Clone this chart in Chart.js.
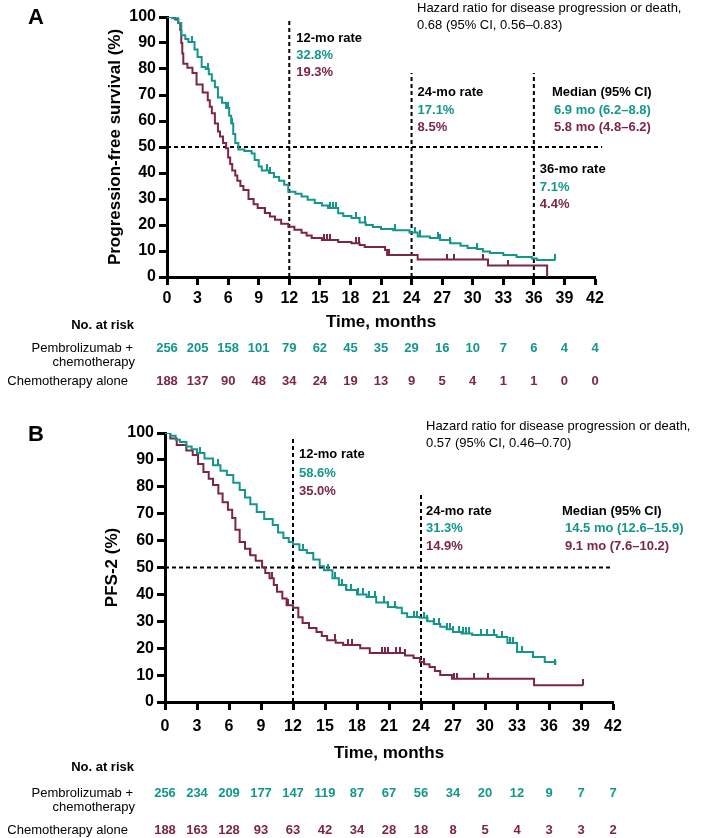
<!DOCTYPE html>
<html>
<head>
<meta charset="utf-8">
<script src="https://cdn.jsdelivr.net/npm/chart.js@4.4.1/dist/chart.umd.min.js"></script>
<style>
html, body { margin: 0; padding: 0; background: #fff; }
#wrap { position: relative; width: 709px; height: 838px; }
canvas { position: absolute; left: 0; }
#pfsChart { top: 0; }
#pfs2Chart { top: 410px; }
</style>
</head>
<body>
<div id="wrap">
  <canvas id="pfsChart" width="709" height="400"></canvas>
  <canvas id="pfs2Chart" width="709" height="428"></canvas>
</div>
<script>
const TEAL = '#13978a';
const MAROON = '#7c2549';
const FONT = '"Liberation Sans", Arial, sans-serif';

// x axis ticks / risk table columns (months)
const monthTicks = [0, 3, 6, 9, 12, 15, 18, 21, 24, 27, 30, 33, 36, 39, 42];

// Panel A: progression-free survival
const pfsPembroTime = [0,0.5,1.1,1.4,1.8,2.1,2.7,3.0,3.4,3.8,4.1,4.4,4.7,5.0,5.4,5.8,6.1,6.3,6.5,6.7,7.0,7.6,8.3,8.6,9.0,9.3,10.0,10.5,11.0,11.5,11.9,12.6,13.2,13.8,14.5,15.2,15.8,16.8,17.3,18.1,18.9,19.5,20.2,21.0,22.2,23.8,24.6,25.8,26.8,27.8,28.8,29.5,30.4,31.0,31.7,33.0,34.3,35.8,36.3,38.1];
const pfsPembroSurv = [100,99.5,97.7,93,91.5,90.4,87.5,84.6,80.8,80,78,75.5,73,69,67,65,62,59,55,51.5,49,48.5,47.5,45,42.5,41,40,38.5,37,35.5,32.8,32,31,29.7,28.5,27.5,26.5,24.5,23.5,22.7,21,20,19.2,18.5,18,17.1,15.6,15,14.2,13,12,11.2,10.8,9.8,9.2,8.5,7.7,7.1,6.5,6.5];
const pfsChemoTime = [0,0.8,1.1,1.3,1.4,1.5,1.6,2.0,2.5,2.9,3.5,4.0,4.2,4.4,4.7,5.0,5.2,5.5,5.8,6.0,6.2,6.4,6.7,6.9,7.2,7.5,8.0,8.5,8.9,9.6,10.1,10.6,11.2,11.9,12.5,13.2,13.7,14.2,15.2,16.8,18.1,18.9,19.4,21.4,21.6,24.6,31.5,37.3];
const pfsChemoSurv = [100,99,97.7,95,90,86,82,80.5,78.5,74,71,68,65.5,63,59,56,54,51.5,49.5,46,43.5,41,39,37,35,33.5,30,28,26.5,24.6,23.3,22,20.5,19.3,18.2,17,16,15,14.2,13.5,13,12.3,11.5,10.4,8.5,6.7,4.4,0];
const pfsPembroCensor = [2.5,4.0,6.0,6.4,9.8,10.1,16.0,16.3,16.6,18.5,19.4,22.4,24.3,24.8,26.6,26.8,27.8,30.4,38.1];
const pfsChemoCensor = [9.6,15.4,15.7,16.0,18.5,18.8,21.8,27.5,28.2,31.0,33.5];
const pfsPembroRisk = [256,205,158,101,79,62,45,35,29,16,10,7,6,4,4];
const pfsChemoRisk = [188,137,90,48,34,24,19,13,9,5,4,1,1,0,0];

// Panel B: PFS-2
const pfs2PembroTime = [0,0.5,1.0,1.4,2.0,2.5,3.0,3.7,4.5,5.2,5.8,6.4,7.0,7.5,8.0,8.6,9.3,10.1,10.6,11.1,11.6,12.0,12.6,13.3,13.9,14.5,14.9,15.7,16.3,17.0,18.0,18.9,19.8,20.9,21.7,22.2,22.7,23.9,24.6,25.2,25.8,26.4,27.0,27.8,28.8,31.1,32.1,33.0,34.5,35.6,36.6];
const pfs2PembroSurv = [100,99,97.5,96.7,95,94,92.6,90.5,88,86,84.4,81.5,78.8,76,73.5,70.6,68,65.8,63,61,59.5,58.6,56.5,55.4,53,50.5,49,46,43.5,41.6,40,39,37,35.3,35,33,31.6,31.3,30,29,28,27,26,25.5,24.9,24.2,21.9,18.6,16.7,14.9,13.8];
const pfs2ChemoTime = [0,0.5,1.1,2.0,2.6,3.1,3.6,4.1,4.5,5.0,5.4,5.9,6.3,6.6,7.0,7.5,8.0,8.5,9.1,9.4,9.8,10.2,10.5,11.0,11.4,12.0,12.5,12.9,13.5,14.2,14.7,15.2,16.0,16.7,18.3,19.2,22.5,23.3,23.9,24.3,24.8,25.3,25.8,26.9,34.6,39.2];
const pfs2ChemoSurv = [100,98,95.5,93.5,91.8,88.5,85.5,83,80.7,77.5,74.3,71.5,68.4,64,59.5,57,54.6,52.5,50,48,46,43.5,41,38.5,36,35,31.5,29.4,27.5,26,24.5,23,22,21.2,20,18.2,17.3,16.4,14.9,14,13,11.5,10,8.6,6.2,6.2];
const pfs2PembroCensor = [3.3,5.0,12.9,15.3,15.9,16.6,17.0,17.4,18.1,18.6,19.1,19.7,20.5,20.9,21.6,23.3,23.6,24.3,24.6,25.2,25.7,26.4,26.7,27.0,27.6,27.9,28.2,28.5,29.6,30.2,30.8,31.6,32.3,32.6,33.5,36.6];
const pfs2ChemoCensor = [8.0,10.0,11.5,15.9,17.2,17.5,20.3,20.6,20.9,21.7,22.0,22.5,24.3,27.1,27.4,29.0,30.3,39.2];
const pfs2PembroRisk = [256,234,209,177,147,119,87,67,56,34,20,12,9,7,7];
const pfs2ChemoRisk = [188,163,128,93,63,42,34,28,18,8,5,4,3,3,2];

function toPoints(times, surv) {
    return times.map((t, i) => ({ x: t, y: surv[i] }));
}

// value of the step curve at time t
function survAt(times, surv, t) {
    let s = surv[0];
    for (let i = 0; i < times.length; i++) {
        if (times[i] <= t) s = surv[i];
    }
    return s;
}

function censorPoints(censor, times, surv) {
    return censor.map(t => ({ x: t, y: survAt(times, surv, t) }));
}

// small upward tick used as censor mark
function tickMark(color) {
    const c = document.createElement('canvas');
    c.width = 2;
    c.height = 12;
    const g = c.getContext('2d');
    g.fillStyle = color;
    g.fillRect(0, 0, 2, 6);
    return c;
}

function refLine(pts) {
    return {
        data: pts, showLine: true, borderColor: '#000', borderWidth: 2,
        borderDash: [4, 3], pointRadius: 0, clip: false
    };
}

function axisOpts(extra) {
    return Object.assign({
        type: 'linear',
        border: { display: true, color: '#000', width: 3 },
        grid: { display: true, drawOnChartArea: false, drawTicks: true, tickLength: 8, tickColor: '#000', tickWidth: 3 },
    }, extra);
}

function buildPanel(canvasId, p) {
    const textPlugin = {
        id: 'panelText',
        afterDraw(chart) {
            const ctx = chart.ctx;
            const xs = chart.scales.x;
            ctx.save();
            ctx.textBaseline = 'middle';
            p.texts.forEach(tx => {
                ctx.font = (tx.bold ? 'bold ' : '') + tx.size + 'px ' + FONT;
                ctx.fillStyle = tx.color || '#000';
                ctx.textAlign = tx.align || 'left';
                const x = tx.at !== undefined ? xs.getPixelForValue(tx.at) + tx.dx : tx.x;
                ctx.fillText(tx.text, x, tx.y);
            });
            // risk table
            ctx.font = 'bold 13px ' + FONT;
            ctx.textAlign = 'center';
            monthTicks.forEach((m, i) => {
                const x = xs.getPixelForValue(m);
                ctx.fillStyle = TEAL;
                ctx.fillText(String(p.pembroRisk[i]), x, p.riskY[0]);
                ctx.fillStyle = MAROON;
                ctx.fillText(String(p.chemoRisk[i]), x, p.riskY[1]);
            });
            ctx.restore();
        }
    };

    const datasets = [
        { data: toPoints(p.pembroT, p.pembroS), showLine: true, stepped: true, borderColor: TEAL, borderWidth: 2, pointRadius: 0 },
        { data: censorPoints(p.pembroC, p.pembroT, p.pembroS), showLine: false, pointStyle: tickMark(TEAL), pointRadius: 5 },
        { data: toPoints(p.chemoT, p.chemoS), showLine: true, stepped: true, borderColor: MAROON, borderWidth: 2, pointRadius: 0 },
        { data: censorPoints(p.chemoC, p.chemoT, p.chemoS), showLine: false, pointStyle: tickMark(MAROON), pointRadius: 5 },
        refLine([{ x: 0, y: 50 }, { x: p.hEnd, y: 50 }])
    ];
    p.vLines.forEach(v => datasets.push(refLine([{ x: v.x, y: 0 }, { x: v.x, y: v.top }])));

    return new Chart(document.getElementById(canvasId), {
        type: 'scatter',
        data: { datasets: datasets },
        options: {
            responsive: false,
            animation: false,
            layout: { padding: p.pad },
            plugins: { legend: { display: false }, tooltip: { enabled: false } },
            scales: {
                x: axisOpts({
                    min: 0, max: 42,
                    afterBuildTicks: s => { s.ticks = monthTicks.map(v => ({ value: v })); },
                    ticks: { color: '#000', font: { family: FONT, size: 16, weight: 'bold' }, padding: p.xTickPad, maxRotation: 0, autoSkip: false },
                    title: { display: true, text: 'Time, months', color: '#000', font: { family: FONT, size: 17, weight: 'bold' }, padding: { top: 0, bottom: 4 } },
                    afterFit: s => { s.height = p.xH; }
                }),
                y: axisOpts({
                    min: 0, max: 100,
                    ticks: { stepSize: 10, color: '#000', font: { family: FONT, size: 16, weight: 'bold' }, padding: 3 },
                    title: { display: true, text: p.yTitle, color: '#000', font: { family: FONT, size: 17, weight: 'bold' }, padding: { top: 4, bottom: 0 } },
                    afterFit: s => { s.width = p.yW; }
                })
            }
        },
        plugins: [textPlugin]
    });
}

function commonTexts(letter, letterY, hr, hrX, hrY) {
    return [
        { text: letter, x: 28, y: letterY, size: 22, bold: true },
        { text: 'Hazard ratio for disease progression or death,', x: hrX, y: hrY, size: 13 },
        { text: hr, x: hrX, y: hrY + 17, size: 13 }
    ];
}

// ys: "No. at risk", "Pembrolizumab +", "chemotherapy", "Chemotherapy alone"
function riskLabels(ys) {
    return [
        { text: 'No. at risk', x: 134, y: ys[0], size: 13, bold: true, align: 'right' },
        { text: 'Pembrolizumab +', x: 133, y: ys[1], size: 13, align: 'right' },
        { text: 'chemotherapy', x: 135, y: ys[2], size: 13, align: 'right' },
        { text: 'Chemotherapy alone', x: 128, y: ys[3], size: 13, align: 'right' }
    ];
}

buildPanel('pfsChart', {
    pembroT: pfsPembroTime, pembroS: pfsPembroSurv, pembroC: pfsPembroCensor,
    chemoT: pfsChemoTime, chemoS: pfsChemoSurv, chemoC: pfsChemoCensor,
    pembroRisk: pfsPembroRisk, chemoRisk: pfsChemoRisk,
    yTitle: 'Progression-free survival (%)',
    pad: { left: 101, right: 114, top: 17, bottom: 63 },
    yW: 66, xH: 60, xTickPad: 4,
    hEnd: 42.7,
    vLines: [{ x: 12, top: 98.8 }, { x: 24, top: 78.5 }, { x: 36, top: 78.5 }],
    riskY: [348, 381],
    texts: commonTexts('A', 18, '0.68 (95% CI, 0.56–0.83)', 417, 8).concat([
        { text: '12-mo rate', at: 12, dx: 7, y: 38, size: 13, bold: true },
        { text: '32.8%', at: 12, dx: 7, y: 55, size: 13, bold: true, color: TEAL },
        { text: '19.3%', at: 12, dx: 7, y: 72, size: 13, bold: true, color: MAROON },
        { text: '24-mo rate', at: 24, dx: 6, y: 92, size: 13, bold: true },
        { text: '17.1%', at: 24, dx: 6, y: 110, size: 13, bold: true, color: TEAL },
        { text: '8.5%', at: 24, dx: 6, y: 127, size: 13, bold: true, color: MAROON },
        { text: 'Median (95% CI)', x: 552, y: 92, size: 13, bold: true },
        { text: '6.9 mo (6.2–8.8)', x: 554, y: 110, size: 13, bold: true, color: TEAL },
        { text: '5.8 mo (4.8–6.2)', x: 554, y: 127, size: 13, bold: true, color: MAROON },
        { text: '36-mo rate', at: 36, dx: 6, y: 169, size: 13, bold: true },
        { text: '7.1%', at: 36, dx: 6, y: 187, size: 13, bold: true, color: TEAL },
        { text: '4.4%', at: 36, dx: 6, y: 204, size: 13, bold: true, color: MAROON }
    ]).concat(riskLabels([325, 348, 362, 381]))
});

buildPanel('pfs2Chart', {
    pembroT: pfs2PembroTime, pembroS: pfs2PembroSurv, pembroC: pfs2PembroCensor,
    chemoT: pfs2ChemoTime, chemoS: pfs2ChemoSurv, chemoC: pfs2ChemoCensor,
    pembroRisk: pfs2PembroRisk, chemoRisk: pfs2ChemoRisk,
    yTitle: 'PFS-2 (%)',
    pad: { left: 98, right: 96, top: 23, bottom: 70 },
    yW: 67, xH: 66, xTickPad: 7,
    hEnd: 42,
    vLines: [{ x: 12, top: 98.1 }, { x: 24, top: 77.7 }],
    riskY: [383, 420],
    texts: commonTexts('B', 25, '0.57 (95% CI, 0.46–0.70)', 426, 16).concat([
        { text: '12-mo rate', at: 12, dx: 6, y: 44, size: 13, bold: true },
        { text: '58.6%', at: 12, dx: 6, y: 63, size: 13, bold: true, color: TEAL },
        { text: '35.0%', at: 12, dx: 6, y: 81, size: 13, bold: true, color: MAROON },
        { text: '24-mo rate', at: 24, dx: 5, y: 101, size: 13, bold: true },
        { text: '31.3%', at: 24, dx: 5, y: 118, size: 13, bold: true, color: TEAL },
        { text: '14.9%', at: 24, dx: 5, y: 136, size: 13, bold: true, color: MAROON },
        { text: 'Median (95% CI)', x: 562, y: 101, size: 13, bold: true },
        { text: '14.5 mo (12.6–15.9)', x: 565, y: 118, size: 13, bold: true, color: TEAL },
        { text: '9.1 mo (7.6–10.2)', x: 565, y: 136, size: 13, bold: true, color: MAROON }
    ]).concat(riskLabels([357, 383, 397, 420]))
});
</script>
</body>
</html>
